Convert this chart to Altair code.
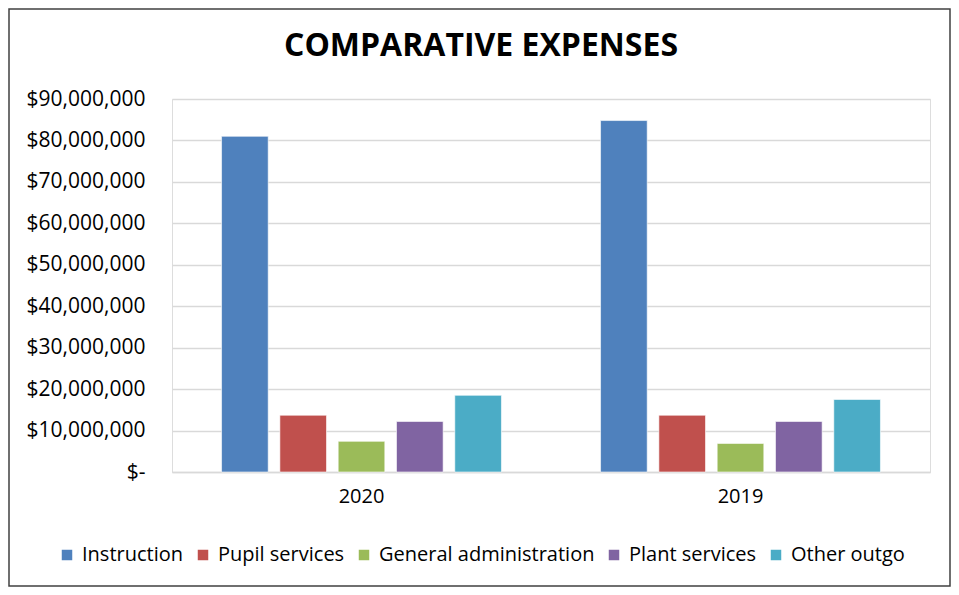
import altair as alt
import pandas as pd

years = ["2020", "2019"]
categories = ["Instruction", "Pupil services", "General administration", "Plant services", "Other outgo"]
values_2020 = [81.0e6, 13.7e6, 7.4e6, 12.2e6, 18.5e6]
values_2019 = [84.8e6, 13.7e6, 6.9e6, 12.2e6, 17.5e6]
colors = ["#4F81BD", "#C0504D", "#9BBB59", "#8064A2", "#4BACC6"]
y_ticks = [0, 10e6, 20e6, 30e6, 40e6, 50e6, 60e6, 70e6, 80e6, 90e6]
title_text = ["COMPARATIVE EXPENSES"]

rows = []
for yr, vals in zip(years, [values_2020, values_2019]):
    for c, v in zip(categories, vals):
        rows.append({"Year": yr, "Category": c, "Value": v})
df = pd.DataFrame(rows)

FONT = "Open Sans"
W, H = 758, 373
PL, PR, PT, PB = 164, 21, 91, 115

bars = alt.Chart(df).mark_bar(stroke="#ffffff", strokeWidth=1, strokeOpacity=0.6).encode(
    x=alt.X("Year:N", sort=years,
            scale=alt.Scale(paddingInner=0, paddingOuter=0),
            axis=alt.Axis(title=None, labelAngle=0, ticks=False, domainColor="#D9D9D9",
                          domainWidth=1.5, labelFont=FONT, labelFontSize=20,
                          labelColor="#000000", labelPadding=14, grid=False)),
    xOffset=alt.XOffset("Category:N", sort=categories,
                        scale=alt.Scale(paddingInner=0.2, paddingOuter=0.85)),
    y=alt.Y("Value:Q", scale=alt.Scale(domain=[0, 90e6], nice=False),
            axis=alt.Axis(title=None, values=y_ticks, ticks=False, domain=False,
                          labelExpr="datum.value == 0 ? '$-' : '$' + format(datum.value, ',')",
                          labelFont=FONT, labelFontSize=21, labelColor="#000000",
                          labelPadding=27, gridColor="#D9D9D9", gridWidth=1.5)),
    color=alt.Color("Category:N", sort=categories,
                    scale=alt.Scale(domain=categories, range=colors),
                    legend=alt.Legend(title=None, orient="none", direction="horizontal",
                                      legendX=-115, legendY=446, symbolType="square",
                                      symbolSize=110, symbolStrokeWidth=0,
                                      labelFont=FONT, labelFontSize=20, labelColor="#000000",
                                      labelLimit=500, columnPadding=9, symbolOffset=0,
                                      labelOffset=5)),
)

title = alt.Chart(pd.DataFrame({"t": title_text})).mark_text(
    font=FONT, fontSize=32, fontWeight="bold", color="#000000", align="center", baseline="middle"
).encode(
    text="t:N",
    x=alt.value(481 - 8 - (PL + 8) + 8),
    y=alt.value(46 - 8 - PT),
)

border = alt.Chart(pd.DataFrame({"a": [0]})).mark_rect(
    filled=False, stroke="#404040", strokeWidth=1.5
).encode(
    x=alt.value(-PL + 1),
    x2=alt.value(W + PR - 1),
    y=alt.value(-PT + 1),
    y2=alt.value(H + PB - 1),
)

chart = alt.layer(bars, title, border).properties(
    width=W, height=H,
    autosize=alt.AutoSizeParams(type="none"),
    padding={"left": PL, "right": PR, "top": PT, "bottom": PB},
).configure_view(stroke="transparent", strokeWidth=0).configure_axisX(grid=False).configure(background="#ffffff")

chart.save("out.html", embed_options={"renderer": "svg", "actions": False})
